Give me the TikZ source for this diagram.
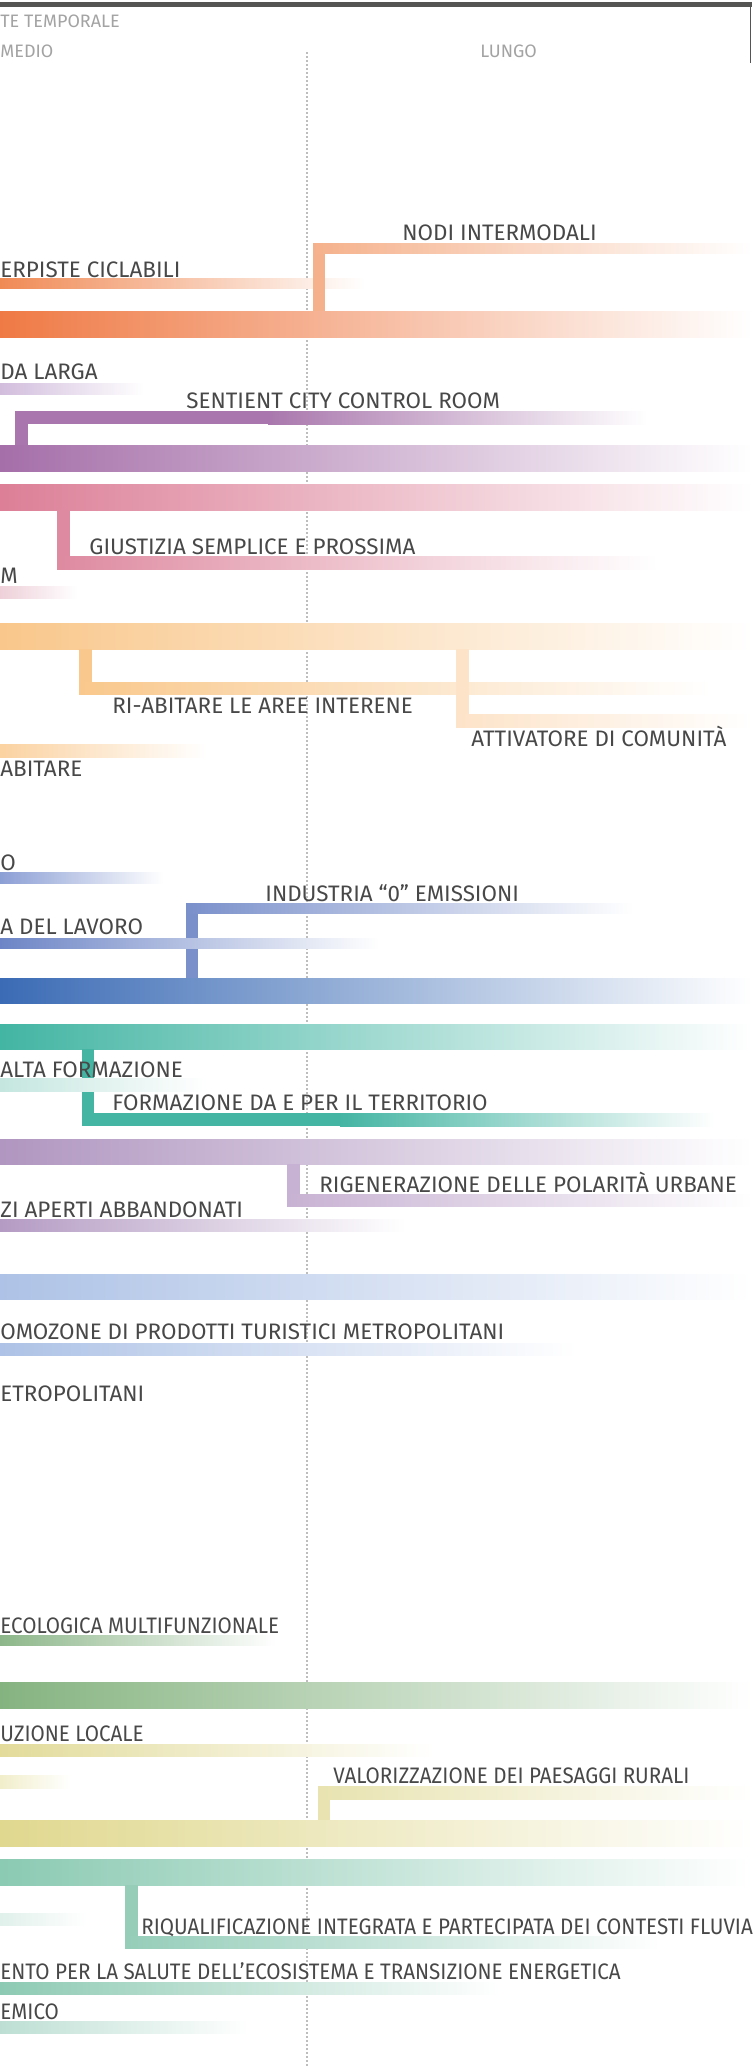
\documentclass[tikz,border=0pt]{standalone}
\usepackage{fontspec}
\setmainfont{Fira Sans}

\definecolor{topgray}{HTML}{555553}
\definecolor{dotgray}{HTML}{BDBDBD}
\definecolor{headgray}{HTML}{A3A3A3}
\definecolor{labelgray}{HTML}{484848}
% bar colours
\definecolor{orThin}{HTML}{F08A55}
\definecolor{orSub}{HTML}{F5B18B}
\definecolor{orMain}{HTML}{EF7A45}
\definecolor{puThin}{HTML}{D2BDDD}
\definecolor{puSub}{HTML}{A977AD}
\definecolor{puMain}{HTML}{A56FA9}
\definecolor{piMain}{HTML}{DC7F97}
\definecolor{piSub}{HTML}{DE8AA0}
\definecolor{piThin}{HTML}{EED0D9}
\definecolor{peMain}{HTML}{F9C78B}
\definecolor{peSub}{HTML}{F9C88C}
\definecolor{peLight}{HTML}{FDE3C8}
\definecolor{peThin}{HTML}{FBD2A1}
\definecolor{blThin}{HTML}{8C9FD5}
\definecolor{blSub}{HTML}{7A90CB}
\definecolor{blLav}{HTML}{6D85C6}
\definecolor{blMain}{HTML}{3B6BB5}
\definecolor{teMain}{HTML}{43B5A3}
\definecolor{teSub}{HTML}{45B5A3}
\definecolor{teThin}{HTML}{C4E6DF}
\definecolor{maMain}{HTML}{B096C0}
\definecolor{maSub}{HTML}{C8B2D3}
\definecolor{maThin}{HTML}{B49BC3}
\definecolor{lbMain}{HTML}{ADC2E6}
\definecolor{grThin}{HTML}{8DB78A}
\definecolor{grMain}{HTML}{85B380}
\definecolor{yeThin}{HTML}{E2DB9A}
\definecolor{yePale}{HTML}{F1EECB}
\definecolor{yeSub}{HTML}{E8E3B0}
\definecolor{yeMain}{HTML}{E0D88F}
\definecolor{sgMain}{HTML}{8BCAB3}
\definecolor{sgSub}{HTML}{95CDB9}
\definecolor{sgPale}{HTML}{E0F0EA}
\definecolor{sgThin}{HTML}{8DCAB3}
\definecolor{sgLight}{HTML}{BDDFD3}

\begin{document}
\begin{tikzpicture}[x=0.5pt,y=-0.5pt,
    label/.style={anchor=base west,inner sep=0pt,text=labelgray,font=\fontsize{11.2}{13}\selectfont},
    narrow/.style={label,transform shape,xscale=0.92},
    head/.style={anchor=base west,inner sep=0pt,text=headgray,font=\fontsize{9}{11}\selectfont}]
    \useasboundingbox (0,0) rectangle (752,2068);

    % header and time divider
    \fill[topgray] (0,2) rectangle (752,7);
    \draw[topgray, line width=0.6pt] (750.5,7) -- (750.5,63);
    \draw[dotgray, line width=1.2pt, dash pattern=on 1pt off 1pt] (307,52) -- (307,2068);

    % mobilita (orange)
    \shade[left color=orThin, right color=white] (0,278) rectangle (365,288);
    \fill[orSub] (313,243) rectangle (325,311);
    \shade[left color=orSub, right color=white] (313,243) rectangle (752,253);
    \shade[left color=orMain, right color=white] (0,311) rectangle (752,337);

    % digitale (purple)
    \shade[left color=puThin, right color=white] (0,383) rectangle (144,394);
    \fill[puSub] (15,411) rectangle (28,445);
    \fill[puSub] (15,411) rectangle (268,424);
    \shade[left color=puSub, right color=white] (268,411) rectangle (647,424);
    \shade[left color=puMain, right color=white] (0,445) rectangle (752,471);

    % giustizia (pink)
    \shade[left color=piMain, right color=white] (0,484) rectangle (752,510);
    \fill[piSub] (57,510) rectangle (70,569);
    \shade[left color=piSub, right color=white] (57,556) rectangle (657,569);
    \shade[left color=piThin, right color=white] (0,586) rectangle (77,598);

    % abitare (peach)
    \shade[left color=peMain, right color=white] (0,623) rectangle (752,649);
    \fill[peSub] (79,649) rectangle (92,694);
    \shade[left color=peSub, right color=white] (79,682) rectangle (710,694);
    \fill[peLight] (456,649) rectangle (469,727);
    \shade[left color=peLight, right color=white] (456,714) rectangle (752,727);
    \shade[left color=peThin, right color=white] (0,744) rectangle (206,757);

    % lavoro (blue)
    \shade[left color=blThin, right color=white] (0,872) rectangle (163,883);
    \fill[blSub] (186,903) rectangle (198,978);
    \shade[left color=blSub, right color=white] (186,903) rectangle (633,913);
    \shade[left color=blLav, right color=white] (0,938) rectangle (379,948);
    \shade[left color=blMain, right color=white] (0,978) rectangle (752,1003);

    % formazione (teal)
    \shade[left color=teMain, right color=white] (0,1024) rectangle (752,1049);
    \fill[teSub] (82,1049) rectangle (94,1126);
    \shade[left color=teThin, right color=white] (0,1078) rectangle (206,1091);
    \fill[teSub] (82,1113) rectangle (340,1126);
    \shade[left color=teSub, right color=white] (340,1113) rectangle (715,1126);

    % rigenerazione (mauve)
    \shade[left color=maMain, right color=white] (0,1139) rectangle (752,1164);
    \fill[maSub] (287,1164) rectangle (300,1206);
    \shade[left color=maSub, right color=white] (287,1194) rectangle (752,1206);
    \shade[left color=maThin, right color=white] (0,1219) rectangle (405,1231);

    % turismo (light blue)
    \shade[left color=lbMain, right color=white] (0,1274) rectangle (752,1299);
    \shade[left color=lbMain, right color=white] (0,1343) rectangle (576,1355);

    % ambiente (green, yellow)
    \shade[left color=grThin, right color=white] (0,1635) rectangle (276,1645);
    \shade[left color=grMain, right color=white] (0,1682) rectangle (752,1708);
    \shade[left color=yeThin, right color=white] (0,1744) rectangle (434,1756);
    \shade[left color=yePale, right color=white] (0,1775) rectangle (70,1788);
    \fill[yeSub] (318,1786) rectangle (330,1820);
    \shade[left color=yeSub, right color=white] (318,1786) rectangle (752,1799);
    \shade[left color=yeMain, right color=white] (0,1820) rectangle (752,1846);

    % fiumi (sea green)
    \shade[left color=sgMain, right color=white] (0,1859) rectangle (752,1885);
    \fill[sgSub] (125,1885) rectangle (138,1948);
    \shade[left color=sgPale, right color=white] (0,1913) rectangle (86,1925);
    \shade[left color=sgSub, right color=white] (125,1936) rectangle (662,1948);
    \shade[left color=sgThin, right color=white] (0,1982) rectangle (499,1994);
    \shade[left color=sgLight, right color=white] (0,2021) rectangle (249,2033);

    % labels
    \node[head] (temporale) at (0,27) {TE TEMPORALE};
    \node[head] (medio) at (0,57) {MEDIO};
    \node[head] (lungo) at (480,57) {LUNGO};
    \node[label] (superpiste) at (0,277) {ERPISTE CICLABILI};
    \node[label] (nodi) at (402,240) {NODI INTERMODALI};
    \node[label] (bandalarga) at (0,379) {DA LARGA};
    \node[label] (sentient) at (186,408) {SENTIENT CITY CONTROL ROOM};
    \node[label] (giustizia) at (89,554) {GIUSTIZIA SEMPLICE E PROSSIMA};
    \node[label] (sistem) at (0,583) {M};
    \node[label] (riabitare) at (112,713) {RI-ABITARE LE AREE INTERENE};
    \node[label] (attivatore) at (471,746) {ATTIVATORE DI COMUNITÀ};
    \node[label] (abitare) at (0,776) {ABITARE};
    \node[label] (lavoroa) at (0,870) {O};
    \node[label] (industria) at (265,901) {INDUSTRIA “0” EMISSIONI};
    \node[label] (lavorob) at (0,934) {A DEL LAVORO};
    \node[label] (alta) at (0,1077) {ALTA FORMAZIONE};
    \node[label] (formazione) at (112,1110) {FORMAZIONE DA E PER IL TERRITORIO};
    \node[label] (rigenerazione) at (319,1192) {RIGENERAZIONE DELLE POLARITÀ URBANE};
    \node[label] (abbandonati) at (0,1217) {ZI APERTI ABBANDONATI};
    \node[label] (promozone) at (0,1339) {OMOZONE DI PRODOTTI TURISTICI METROPOLITANI};
    \node[label] (metropolitani) at (0,1401) {ETROPOLITANI};
    \node[narrow] (ecologica) at (0,1633) {ECOLOGICA MULTIFUNZIONALE};
    \node[narrow] (locale) at (0,1741) {UZIONE LOCALE};
    \node[narrow] (valorizzazione) at (333,1783) {VALORIZZAZIONE DEI PAESAGGI RURALI};
    \node[narrow] (riqualificazione) at (141,1934) {RIQUALIFICAZIONE INTEGRATA E PARTECIPATA DEI CONTESTI FLUVIA};
    \node[narrow] (salute) at (0,1979) {ENTO PER LA SALUTE DELL’ECOSISTEMA E TRANSIZIONE ENERGETICA};
    \node[narrow] (emico) at (0,2019) {EMICO};
\end{tikzpicture}
\end{document}
